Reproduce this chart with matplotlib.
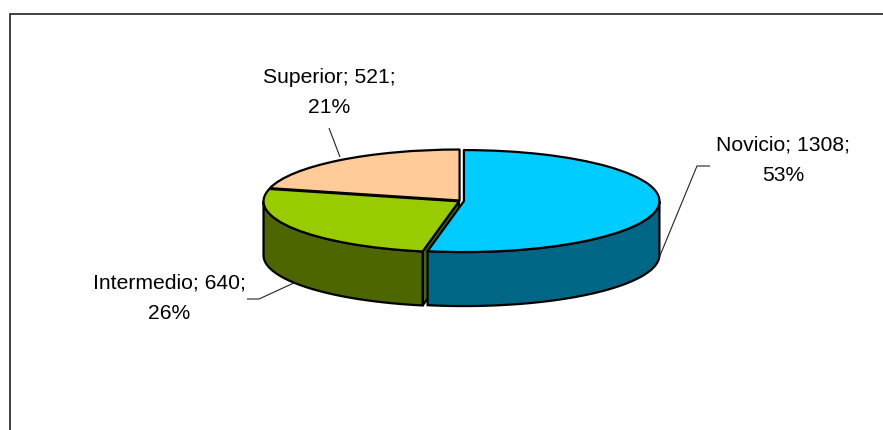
import numpy as np
import matplotlib
matplotlib.use("Agg")
import matplotlib.pyplot as plt

names = ["Novicio", "Intermedio", "Superior"]
values = [1308, 640, 521]
percents = [53, 26, 21]
top_colors = ["#00CCFF", "#99CC00", "#FFCC99"]
wall_colors = ["#006685", "#4D6600", "#B38F6B"]
explode = [0.015, 0.012, 0.012]

W, H = 883, 430
CX, CY, RX, RY, DEPTH = 461.0, 201.0, 195.5, 51.0, 54.0
plt.rcParams["font.family"] = ["Liberation Sans", "DejaVu Sans"]

fig = plt.figure(figsize=(W / 100, H / 100), dpi=100)
ax = fig.add_axes([0, 0, 1, 1])
LW = 1.6
ax.pie(values, startangle=90, counterclock=False, colors=top_colors, explode=explode,
       radius=1, wedgeprops=dict(edgecolor="black", linewidth=LW, joinstyle="round", zorder=5))
ax.set_aspect("auto")
ax.set_xlim((0 - CX) / RX, (W - CX) / RX)
ax.set_ylim((CY - H) / RY, CY / RY)
ax.set_frame_on(True)
for s in ax.spines.values():
    s.set_visible(False)

def px(x, y):
    return (x - CX) / RX, (CY - y) / RY

depth = DEPTH / RY
frac = np.cumsum([0] + values) / sum(values)
starts = 90 - 360 * frac[:-1]
ends = 90 - 360 * frac[1:]
for i in [2, 1, 0]:
    a0, a1 = starts[i], ends[i]
    mid = np.radians((a0 + a1) / 2)
    dx, dy = explode[i] * np.cos(mid), explode[i] * np.sin(mid)
    # the only cut face that shows: the green wedge's face towards the blue wedge
    if names[i] == "Intermedio":
        r = np.radians(a0)
        xs = [dx, dx + np.cos(r), dx + np.cos(r), dx]
        ys = [dy, dy + np.sin(r), dy + np.sin(r) - depth, dy - depth]
        ax.fill(xs, ys, facecolor=wall_colors[i], edgecolor="black", linewidth=LW, zorder=1)
    # outer wall: visible lower half only
    lo, hi = max(a1, -180), min(a0, 0)
    if hi > lo:
        t = np.radians(np.linspace(hi, lo, 120))
        xs = np.r_[np.cos(t), np.cos(t[::-1])] + dx
        ys = np.r_[np.sin(t), np.sin(t[::-1]) - depth] + dy
        ax.fill(xs, ys, facecolor=wall_colors[i], edgecolor="black", linewidth=LW, zorder=2 + (i == 0))

leaders = [
    [(659, 258), (697, 166), (710, 166)],
    [(296, 282), (259, 299), (247, 299)],
    [(340, 157), (329, 128)],
]
label_pos = [(783, 160.5), (169, 298.5), (329, 92.5)]
for name, v, p, line, pos in zip(names, values, percents, leaders, label_pos):
    lx, ly = zip(*[px(*q) for q in line])
    ax.plot(lx, ly, color="#222222", lw=0.8, zorder=6, solid_capstyle="butt")
    ax.text(*px(*pos), f"{name}; {v};\n{p}%", ha="center", va="center",
            fontsize=15.2, color="black", linespacing=1.75, zorder=7)

# chart-area frame
fx, fy = zip(*[px(10.5, H), px(10.5, 14), px(W, 14)])
ax.plot(fx, fy, color="#333333", lw=1.3, zorder=8, solid_joinstyle="miter")

fig.savefig("out.png", dpi=100)
